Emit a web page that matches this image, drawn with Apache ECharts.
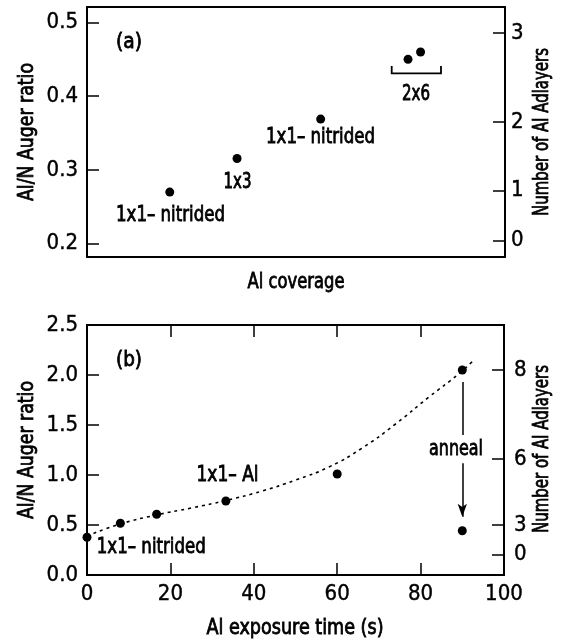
<!DOCTYPE html>
<html>
<head>
<meta charset="utf-8">
<script src="https://cdn.jsdelivr.net/npm/echarts@6.0.0/dist/echarts.min.js"></script>
<style>
  html, body { margin: 0; padding: 0; background: #fff; }
  #main { width: 561px; height: 643px; }
</style>
</head>
<body>
<div id="main"></div>
<script>
// panel (a): Auger ratio vs Al coverage (coverage in arbitrary units)
var coverageA = [0.198, 0.359, 0.559, 0.768, 0.798];
var ratioA = [0.270, 0.3155, 0.369, 0.450, 0.460];
var ratioTicksA = [0.2, 0.3, 0.4, 0.5];
// right axis of (a): number of adlayers and where they sit on the ratio scale
var layerTicksA = [0, 1, 2, 3];
var layerPosA = [0.204, 0.272, 0.365, 0.486];

// panel (b): Auger ratio vs exposure time
var timeB = [0, 8, 16.7, 33.3, 60, 90];
var ratioB = [0.377, 0.517, 0.607, 0.74, 1.01, 2.05];
var annealTime = [90];
var annealRatio = [0.443];
// dotted guide curve
var fitTime = [0, 8, 16.6, 25, 33.3, 42, 50, 58, 66, 74, 82, 89.4, 93];
var fitRatio = [0.39, 0.51, 0.6, 0.67, 0.745, 0.84, 0.95, 1.08, 1.27, 1.51, 1.78, 2.02, 2.16];
var layerTicksB = [0, 3, 6, 8];
var layerPosB = [0.207, 0.50, 1.16, 2.05];

var FONT = "'DejaVu Sans Condensed', 'DejaVu Sans', sans-serif";

function pairs(xs, ys) {
    var out = [];
    for (var i = 0; i < xs.length; i++) out.push([xs[i], ys[i]]);
    return out;
}

function layerLabel(ticks, pos) {
    return function (v) {
        for (var i = 0; i < pos.length; i++) {
            if (Math.abs(pos[i] - v) < 1e-6) return String(ticks[i]);
        }
        return '';
    };
}

function ticks(custom) {
    var t = { show: true, inside: true, length: 12, lineStyle: { color: '#000', width: 1.5 } };
    if (custom) t.customValues = custom;
    return t;
}

function labels(margin, custom, fmt) {
    var l = { show: true, color: '#000', fontFamily: FONT, fontSize: 22, margin: margin,
              textBorderColor: '#000', textBorderWidth: 0.4 };
    if (custom) l.customValues = custom;
    if (fmt) l.formatter = fmt;
    return l;
}

// onZero off, otherwise the right / top axes snap onto the zero of the other axis
var noLine = { show: false, onZero: false };

// the original lettering is narrower than any installed font, so squeeze text to the width it has there
var measureCtx = document.createElement('canvas').getContext('2d');
function squeezed(str, cx, cy, width, size, vertical) {
    measureCtx.font = size + 'px ' + FONT;
    var w = measureCtx.measureText(str).width;
    return {
        type: 'text', x: cx, y: cy, scaleX: width / w, rotation: vertical ? Math.PI / 2 : 0,
        style: { text: str, font: size + 'px ' + FONT, fill: '#000', stroke: '#000', lineWidth: 0.8,
                 align: 'center', verticalAlign: 'middle' }
    };
}

function fixed1(v) { return v.toFixed(1); }

var myChart = echarts.init(document.getElementById('main'));

var option = {
    animation: false,
    backgroundColor: '#fff',
    grid: [
        { left: 87, right: 56, top: 7, height: 250, show: true, borderColor: '#000', borderWidth: 2, outerBoundsMode: 'none' },
        { left: 87, right: 57, top: 325, height: 250, show: true, borderColor: '#000', borderWidth: 2, outerBoundsMode: 'none' }
    ],
    xAxis: [
        {
            gridIndex: 0, type: 'value', min: 0, max: 1,
            axisLine: noLine, axisTick: { show: false }, axisLabel: { show: false }, splitLine: { show: false }
        },
        {
            gridIndex: 1, type: 'value', position: 'bottom', min: 0, max: 100, interval: 20,
            axisLine: noLine, axisTick: ticks(), splitLine: { show: false },
            axisLabel: labels(8)
        },
        {
            gridIndex: 1, type: 'value', position: 'top', min: 0, max: 100, interval: 20,
            axisLine: noLine, axisTick: ticks(), axisLabel: { show: false }, splitLine: { show: false }
        }
    ],
    yAxis: [
        {
            gridIndex: 0, type: 'value', position: 'left', min: 0.182, max: 0.521,
            axisLine: noLine, splitLine: { show: false },
            axisTick: ticks(ratioTicksA), axisLabel: labels(9, ratioTicksA, fixed1)
        },
        {
            gridIndex: 0, type: 'value', position: 'right', min: 0.182, max: 0.521,
            axisLine: noLine, splitLine: { show: false },
            axisTick: ticks(layerPosA), axisLabel: labels(6, layerPosA, layerLabel(layerTicksA, layerPosA))
        },
        {
            gridIndex: 1, type: 'value', position: 'left', min: 0, max: 2.5, interval: 0.5,
            axisLine: noLine, splitLine: { show: false },
            axisTick: ticks(), axisLabel: labels(9, null, fixed1)
        },
        {
            gridIndex: 1, type: 'value', position: 'right', min: 0, max: 2.5,
            axisLine: noLine, splitLine: { show: false },
            axisTick: ticks(layerPosB), axisLabel: labels(10, layerPosB, layerLabel(layerTicksB, layerPosB))
        }
    ],
    series: [
        {
            name: 'coverage', type: 'scatter', xAxisIndex: 0, yAxisIndex: 0,
            symbol: 'circle', symbolSize: 9, itemStyle: { color: '#000', opacity: 1 },
            data: pairs(coverageA, ratioA)
        },
        {
            name: 'fit', type: 'line', xAxisIndex: 1, yAxisIndex: 2,
            smooth: true, showSymbol: false, silent: true,
            lineStyle: { color: '#000', width: 1.6, type: [3, 4] },
            data: pairs(fitTime, fitRatio)
        },
        {
            name: 'exposure', type: 'scatter', xAxisIndex: 1, yAxisIndex: 2,
            symbol: 'circle', symbolSize: 9, itemStyle: { color: '#000', opacity: 1 },
            data: pairs(timeB, ratioB)
        },
        {
            name: 'annealed', type: 'scatter', xAxisIndex: 1, yAxisIndex: 2,
            symbol: 'circle', symbolSize: 9, itemStyle: { color: '#000', opacity: 1 },
            data: pairs(annealTime, annealRatio),
            markLine: {
                silent: true, animation: false,
                label: { show: false },
                lineStyle: { color: '#000', width: 1.5, type: 'solid' },
                data: [
                    [{ coord: [90, 1.93], symbol: 'none' }, { coord: [90, 1.40], symbol: 'none' }],
                    [{ coord: [90, 1.117], symbol: 'none' }, { coord: [90, 0.583], symbol: 'arrow', symbolSize: [7, 13] }]
                ]
            }
        }
    ],
    graphic: [
        { type: 'polyline', shape: { points: [[391.7, 66], [391.7, 73.3], [441, 73.3], [441, 66]] },
          style: { stroke: '#000', lineWidth: 1.8, fill: null } },
        // axis titles
        squeezed('Al/N Auger ratio', 27, 132, 138, 22, true),
        squeezed('Number of Al Adlayers', 542, 132, 168, 22, true),
        squeezed('Al coverage', 296, 282, 97, 22),
        squeezed('Al/N Auger ratio', 27, 450, 138, 22, true),
        squeezed('Number of Al Adlayers', 542, 449, 168, 22, true),
        squeezed('Al exposure time (s)', 295, 628, 177, 22),
        // annotations
        squeezed('(a)', 129, 42, 26, 22),
        squeezed('1x1\u2013 nitrided', 170.5, 215, 109, 22),
        squeezed('1x3', 237.5, 182, 28, 22),
        squeezed('1x1\u2013 nitrided', 320.5, 137, 109, 22),
        squeezed('2x6', 416, 94, 28, 22),
        squeezed('(b)', 129, 360, 26, 22),
        squeezed('1x1\u2013 Al', 227.5, 475, 62, 22),
        squeezed('1x1\u2013 nitrided', 151.3, 547, 109, 22),
        squeezed('anneal', 456, 449, 54, 22)
    ]
};

myChart.setOption(option);
</script>
</body>
</html>
